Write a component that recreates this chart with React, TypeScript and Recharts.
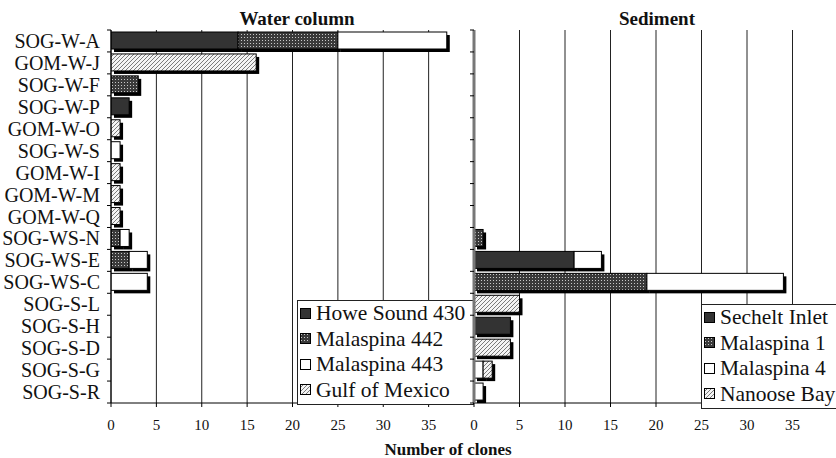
import React from 'react';
import { BarChart, Bar, XAxis, YAxis, CartesianGrid, Legend } from 'recharts';

const categories = ['SOG-W-A', 'GOM-W-J', 'SOG-W-F', 'SOG-W-P', 'GOM-W-O', 'SOG-W-S', 'GOM-W-I', 'GOM-W-M', 'GOM-W-Q', 'SOG-WS-N', 'SOG-WS-E', 'SOG-WS-C', 'SOG-S-L', 'SOG-S-H', 'SOG-S-D', 'SOG-S-G', 'SOG-S-R'];

// Water column
const howeSound430 = [14, 0, 0, 2, 0, 0, 0, 0, 0, 0, 0, 0, 0, 0, 0, 0, 0];
const malaspina442 = [11, 0, 3, 0, 0, 0, 0, 0, 0, 1, 2, 0, 0, 0, 0, 0, 0];
const malaspina443 = [12, 0, 0, 0, 0, 1, 0, 0, 0, 1, 2, 4, 0, 0, 0, 0, 0];
const gulfOfMexico = [0, 16, 0, 0, 1, 0, 1, 1, 1, 0, 0, 0, 0, 0, 0, 0, 0];

// Sediment
const secheltInlet = [0, 0, 0, 0, 0, 0, 0, 0, 0, 0, 11, 0, 0, 4, 0, 0, 0];
const malaspina1 = [0, 0, 0, 0, 0, 0, 0, 0, 0, 1, 0, 19, 0, 0, 0, 0, 0];
const malaspina4 = [0, 0, 0, 0, 0, 0, 0, 0, 0, 0, 3, 15, 0, 0, 0, 1, 1];
const nanooseBay = [0, 0, 0, 0, 0, 0, 0, 0, 0, 0, 0, 0, 5, 0, 4, 1, 0];

const xTicks = [0, 5, 10, 15, 20, 25, 30, 35];
const xDomain = [0, 40];

const waterSeries = [
  { key: 'howe', name: 'Howe Sound 430', fill: '#333333', values: howeSound430 },
  { key: 'm442', name: 'Malaspina 442', fill: 'url(#dots)', values: malaspina442 },
  { key: 'm443', name: 'Malaspina 443', fill: '#ffffff', values: malaspina443 },
  { key: 'gom', name: 'Gulf of Mexico', fill: 'url(#hatch)', values: gulfOfMexico },
];
const sedimentSeries = [
  { key: 'sech', name: 'Sechelt Inlet', fill: '#333333', values: secheltInlet },
  { key: 'm1', name: 'Malaspina 1', fill: 'url(#dots)', values: malaspina1 },
  { key: 'm4', name: 'Malaspina 4', fill: '#ffffff', values: malaspina4 },
  { key: 'nan', name: 'Nanoose Bay', fill: 'url(#hatch)', values: nanooseBay },
];

const buildData = (series: typeof waterSeries) =>
  categories.map((name, i) => {
    const row: Record<string, any> = { name };
    series.forEach((s) => { row[s.key] = s.values[i]; });
    return row;
  });

const waterData = buildData(waterSeries);
const sedimentData = buildData(sedimentSeries);

const FONT = '"Liberation Serif", "Times New Roman", serif';
const TEXT = '#111';
const PLOT_TOP = 30;
const PLOT_BOTTOM = 403;
const BAND = (PLOT_BOTTOM - PLOT_TOP) / categories.length;

const ShadowBar = (props: any) => {
  const { x, y, width, height, fill } = props;
  if (!width || width <= 0) return <g />;
  return (
    <g>
      <rect x={x + 3} y={y + 3} width={width} height={height} fill="#000" />
      <rect x={x} y={y} width={width} height={height} fill={fill} stroke="#000" strokeWidth={1} />
    </g>
  );
};

const makeYTick = (showLabel: boolean) => (props: any) => {
  const { x, y, payload, index } = props;
  return (
    <g>
      {showLabel && (
        <text x={x - 11} y={y} textAnchor="end" dominantBaseline="central" fontSize={20} fontFamily={FONT} fill={TEXT}>
          {payload.value}
        </text>
      )}
      <line x1={x - 4} x2={x} y1={y - BAND / 2} y2={y - BAND / 2} stroke="#000" />
      {index === categories.length - 1 && (
        <line x1={x - 4} x2={x} y1={y + BAND / 2} y2={y + BAND / 2} stroke="#000" />
      )}
    </g>
  );
};

const makeLegend = (series: typeof waterSeries, padRight: number) => () => (
  <div style={{ border: '1px solid #222', background: '#fff', padding: `0 ${padRight}px 1px 2px`, fontFamily: FONT, fontSize: 21.5, lineHeight: '25.5px', color: TEXT, whiteSpace: 'nowrap' }}>
    {series.map((s) => (
      <div key={s.key} style={{ display: 'flex', alignItems: 'center' }}>
        <svg width={16} height={12} style={{ flex: 'none' }}>
          <rect x={0.5} y={0.5} width={10} height={10} fill={s.fill} stroke="#000" />
        </svg>
        <span>{s.name}</span>
      </div>
    ))}
  </div>
);

const Panel = ({ data, series, yWidth, showLabels, width, legendPos, legendPad, axisStroke, axisWidth }: any) => (
  <BarChart
    width={width}
    height={458}
    data={data}
    layout="vertical"
    margin={{ top: PLOT_TOP, right: 0, bottom: 0, left: 0 }}
    barSize={17}
  >
    <CartesianGrid horizontal={false} vertical stroke="#222" strokeWidth={1} />
    <XAxis
      type="number"
      domain={xDomain}
      ticks={xTicks}
      height={458 - PLOT_BOTTOM}
      tickSize={4}
      tickMargin={12}
      stroke="#000"
      tick={{ fontSize: 15, fontFamily: FONT, fill: TEXT }}
      allowDataOverflow
    />
    <XAxis
      xAxisId="top"
      orientation="top"
      type="number"
      domain={xDomain}
      height={0}
      tick={false}
      tickLine={false}
      stroke="#000"
    />
    <YAxis
      type="category"
      dataKey="name"
      width={yWidth}
      tickLine={false}
      tickSize={0}
      tickMargin={0}
      interval={0}
      axisLine={{ stroke: axisStroke, strokeWidth: axisWidth }}
      tick={makeYTick(showLabels)}
    />
    <Legend
      layout="vertical"
      align="center"
      verticalAlign="middle"
      content={makeLegend(series, legendPad)}
      wrapperStyle={{ left: legendPos[0], top: legendPos[1], width: 'auto', height: 'auto' }}
    />
    {series.map((s: any) => (
      <Bar key={s.key} dataKey={s.key} name={s.name} stackId="a" fill={s.fill} shape={ShadowBar} isAnimationActive={false} />
    ))}
  </BarChart>
);

export default function App() {
  return (
    <div style={{ position: 'absolute', left: 0, top: 0, width: 836, height: 458, overflow: 'hidden', background: '#fff', fontFamily: FONT }}>
      <svg width={0} height={0} style={{ position: 'absolute' }}>
        <defs>
          <pattern id="dots" width={3} height={3} patternUnits="userSpaceOnUse">
            <rect width={3} height={3} fill="#3a3a3a" />
            <rect x={1} y={1} width={1} height={1} fill="#c8c8c8" />
          </pattern>
          <pattern id="hatch" width={4} height={4} patternUnits="userSpaceOnUse">
            <rect width={4} height={4} fill="#f4f4f4" />
            <path d="M-1,1 l2,-2 M0,4 l4,-4 M3,5 l2,-2" stroke="#7a7a7a" strokeWidth={1} />
          </pattern>
        </defs>
      </svg>
      <div style={{ position: 'absolute', left: 0, top: 0 }}>
        <Panel data={waterData} series={waterSeries} yWidth={111} showLabels width={474} legendPos={[297, 300]} legendPad={8} axisStroke="#000" axisWidth={1} />
      </div>
      <div style={{ position: 'absolute', left: 462, top: 0 }}>
        <Panel data={sedimentData} series={sedimentSeries} yWidth={12} showLabels={false} width={376} legendPos={[239, 304]} legendPad={30} axisStroke="#777" axisWidth={3} />
      </div>
      <div style={{ position: 'absolute', left: 197, width: 200, top: 8, textAlign: 'center', fontWeight: 'bold', fontSize: 19, lineHeight: '22px', color: TEXT }}>Water column</div>
      <div style={{ position: 'absolute', left: 557, width: 200, top: 8, textAlign: 'center', fontWeight: 'bold', fontSize: 19, lineHeight: '22px', color: TEXT }}>Sediment</div>
      <div style={{ position: 'absolute', left: 348, width: 200, top: 439, textAlign: 'center', fontWeight: 'bold', fontSize: 17, lineHeight: '22px', color: TEXT }}>Number of clones</div>
    </div>
  );
}
